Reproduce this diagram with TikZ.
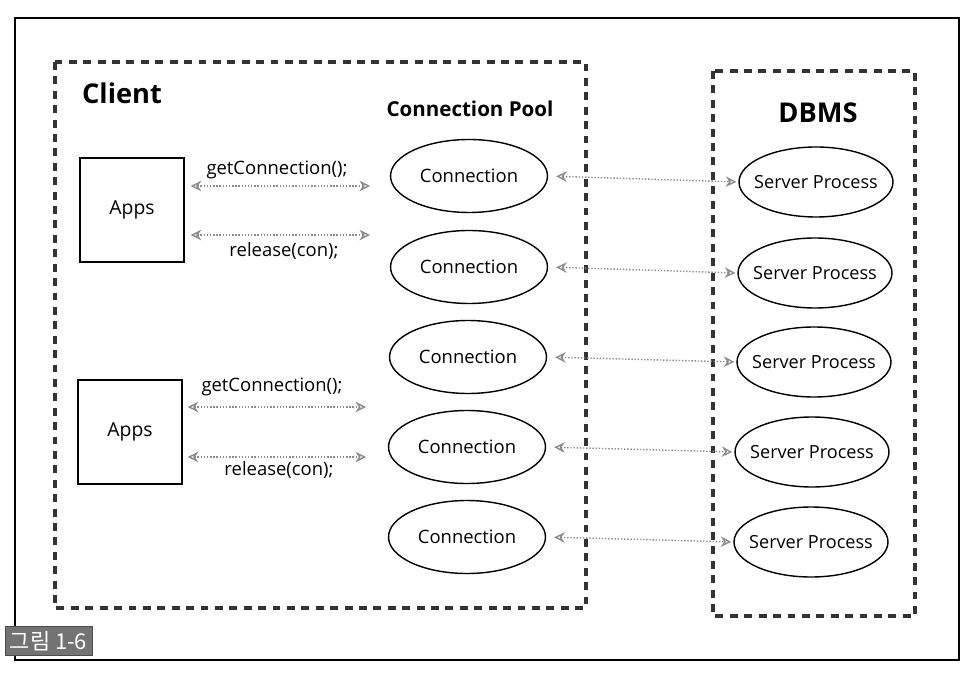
\documentclass[tikz,border=0pt]{standalone}
\usepackage{fontspec}
\setmainfont{Open Sans}
\newfontfamily\krfont{Noto Sans CJK KR}
\usetikzlibrary{arrows.meta,shapes.geometric}
\newcommand{\nowidth}[1]{\makebox[0pt]{#1}}
\tikzset{
    grp/.style={line width=2.8pt, black!80, dash pattern=on 4.5pt off 3.7pt},
    appbox/.style={draw, line width=0.8pt, minimum width=2.08cm, minimum height=2.08cm, inner sep=0pt, font=\fontsize{11}{13}\selectfont},
    conn/.style={draw, ellipse, line width=0.8pt, minimum width=3.14cm, minimum height=1.46cm, inner sep=0pt, font=\fontsize{10.5}{12}\selectfont},
    srv/.style={draw, ellipse, line width=0.8pt, minimum width=3.08cm, minimum height=1.4cm, inner sep=0pt, font=\fontsize{10.3}{12}\selectfont},
    link/.style={{Stealth[open,length=6pt,width=6pt]}-{Stealth[open,length=6pt,width=6pt]}, black!45, densely dotted, line width=0.8pt},
    call/.style={font=\fontsize{10.5}{12}\selectfont},
    title/.style={font=\bfseries\fontsize{15.5}{18}\selectfont}
}
\begin{document}
\begin{tikzpicture}[x=0.02cm,y=-0.02cm]
    \useasboundingbox (0,0) rectangle (972,678);
    % frame and groups
    \draw[line width=1pt] (15,18) rectangle (959,660);
    \draw[grp] (55,62) rectangle (586,608);
    \draw[grp] (713,71) rectangle (915,616);
    \node[title] (client) at (122,93) {Client};
    \node[font=\bfseries\fontsize{11.7}{14}\selectfont] (pool) at (470,109) {Connection Pool};
    \node[title] (dbms) at (818,113) {DBMS};
    % apps
    \node[appbox] (a1) at (132,210) {Apps};
    \node[appbox] (a2) at (130,432) {Apps};
    % connections
    \node[conn] (c1) at (469,176) {\nowidth{Connection}};
    \node[conn] (c2) at (469,267) {\nowidth{Connection}};
    \node[conn] (c3) at (468,357) {\nowidth{Connection}};
    \node[conn] (c4) at (467,447) {\nowidth{Connection}};
    \node[conn] (c5) at (467,537) {\nowidth{Connection}};
    % server processes
    \node[srv] (s1) at (816,182) {\nowidth{Server Process}};
    \node[srv] (s2) at (815,273) {\nowidth{Server Process}};
    \node[srv] (s3) at (814,362) {\nowidth{Server Process}};
    \node[srv] (s4) at (812,452) {\nowidth{Server Process}};
    \node[srv] (s5) at (811,542) {\nowidth{Server Process}};
    % calls
    \coordinate (g1) at (370,186);
    \coordinate (r1) at (370,235);
    \coordinate (g2) at (366,407);
    \coordinate (r2) at (366,457);
    \draw[link, shorten <=0.12cm] (a1.east |- g1) -- (g1);
    \draw[link, shorten <=0.12cm] (a1.east |- r1) -- (r1);
    \draw[link, shorten <=0.1cm] (a2.east |- g2) -- (g2);
    \draw[link, shorten <=0.1cm] (a2.east |- r2) -- (r2);
    \node[call] (gt1) at (277,170) {getConnection();};
    \node[call] (rt1) at (284,251) {release(con);};
    \node[call] (gt2) at (272,387) {getConnection();};
    \node[call] (rt2) at (279,470) {release(con);};
    % pool to dbms
    \draw[link, shorten <=0.16cm, shorten >=0.04cm] (c1.east) -- (s1.west);
    \draw[link, shorten <=0.16cm, shorten >=0.04cm] (c2.east) -- (s2.west);
    \draw[link, shorten <=0.16cm, shorten >=0.04cm] (c3.east) -- (s3.west);
    \draw[link, shorten <=0.16cm, shorten >=0.04cm] (c4.east) -- (s4.west);
    \draw[link, shorten <=0.16cm, shorten >=0.04cm] (c5.east) -- (s5.west);
    % figure tag
    \node[fill=black!55, draw=black!70, text=white, font=\krfont\fontsize{12.5}{15}\selectfont, minimum width=1.74cm, minimum height=0.58cm, inner sep=0pt] (tag) at (48.5,641) {그림 1-6};
\end{tikzpicture}
\end{document}
